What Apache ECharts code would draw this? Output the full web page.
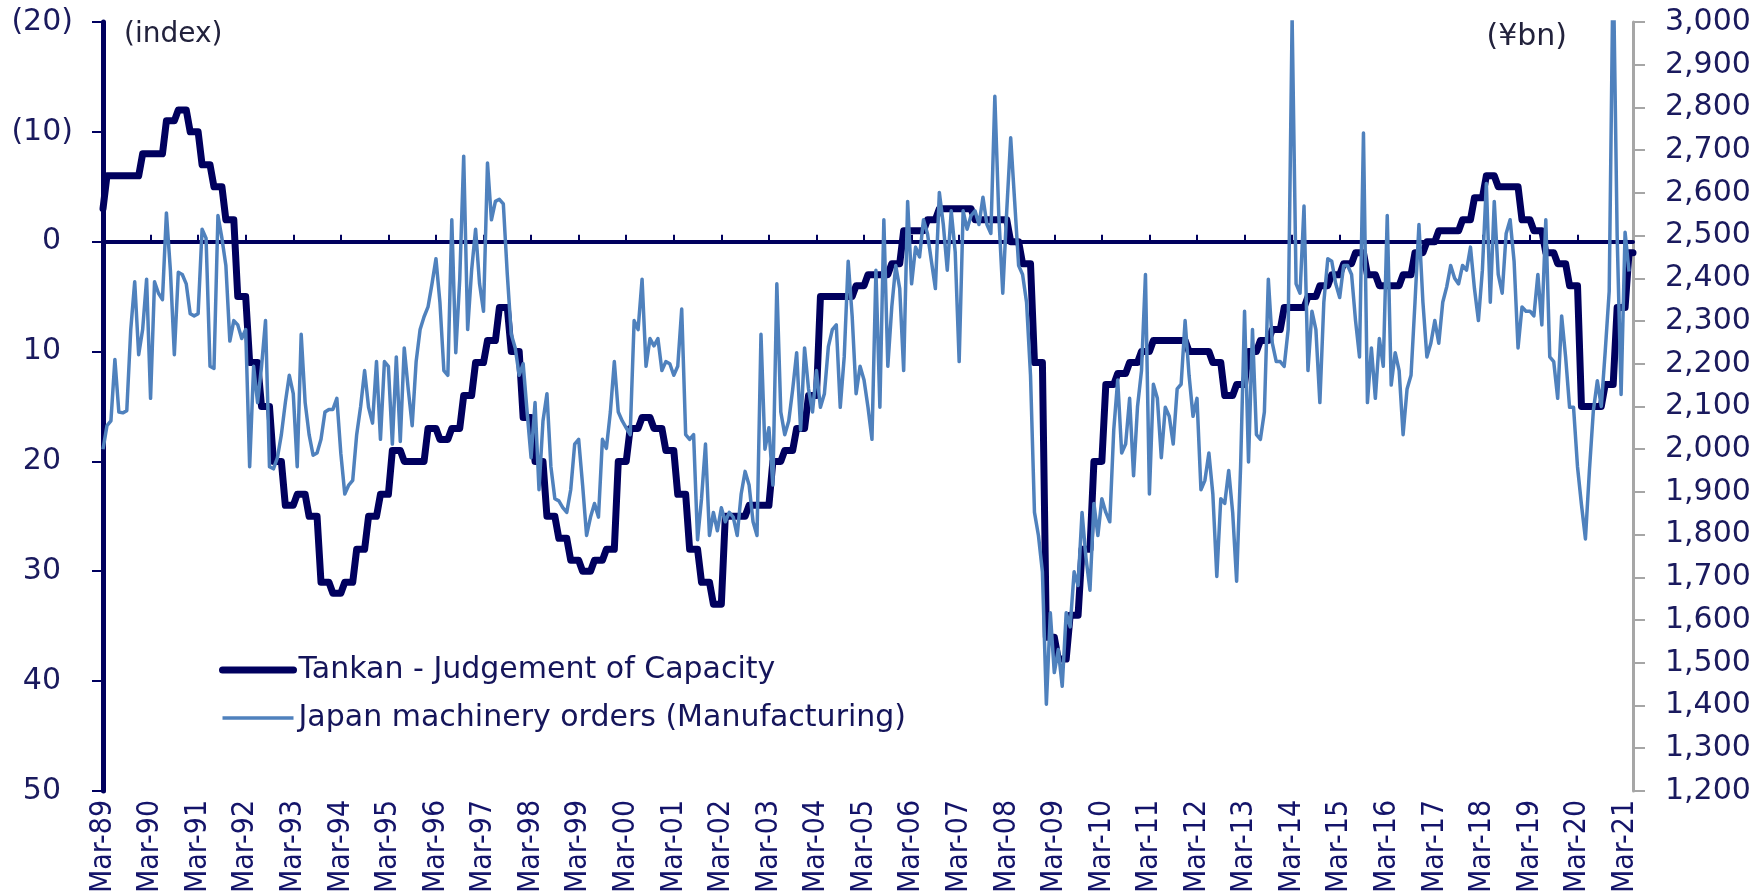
<!DOCTYPE html>
<html>
<head>
<meta charset="utf-8">
<script src="https://cdn.jsdelivr.net/npm/echarts@6/dist/echarts.min.js"></script>
<style>
html, body { margin: 0; padding: 0; background: #fff; }
#chart { width: 1756px; height: 896px; }
</style>
</head>
<body>
<div id="chart"></div>
<script>
// monthly categories, Mar-89 .. May-21
var monthNames = ['Jan', 'Feb', 'Mar', 'Apr', 'May', 'Jun', 'Jul', 'Aug', 'Sep', 'Oct', 'Nov', 'Dec'];
var firstYear = 1989, firstMonth = 2, monthCount = 387;
var months = [];
for (var k = 0; k < monthCount; k++) {
  var mm = (firstMonth + k) % 12;
  var yy = firstYear + Math.floor((firstMonth + k) / 12);
  months.push(monthNames[mm] + '-' + String(yy).slice(2));
}

// Tankan - judgement of capacity, quarterly survey (first value = Mar-89 only)
var tankanQ = [
  -3,
  -6, -6, -6, -8,     // 89/90
  -8, -11, -12, -10,  // 90/91
  -7, -5, -2, 5,      // 91/92
  11, 15, 20, 24,     // 92/93
  23, 25, 31, 32,     // 93/94
  31, 28, 25, 23,     // 94/95
  19, 20, 20, 17,     // 95/96
  18, 17, 14, 11,     // 96/97
  9, 6, 10, 16,       // 97/98
  20, 25, 27, 29,     // 98/99
  30, 29, 28, 20,     // 99/00
  17, 16, 17, 19,     // 00/01
  23, 28, 31, 33,     // 01/02
  25, 25, 24, 24,     // 02/03
  20, 19, 17, 14,     // 03/04
  5, 5, 5, 4,         // 04/05
  3, 3, 2, -1,        // 05/06
  -1, -2, -3, -3,     // 06/07
  -3, -2, -2, -2,     // 07/08
  0, 2, 11, 36,       // 08/09
  38, 34, 28, 20,     // 09/10
  13, 12, 11, 10,     // 10/11
  9, 9, 9, 10,        // 11/12
  10, 11, 14, 13,     // 12/13
  10, 9, 8, 6,        // 13/14
  6, 5, 4, 3,         // 14/15
  2, 1, 3, 4,         // 15/16
  4, 3, 1, 0,         // 16/17
  -1, -1, -2, -4,     // 17/18
  -6, -5, -5, -2,     // 18/19
  -1, 1, 2, 4,        // 19/20
  15, 15, 13, 6,      // 20/21
  1
];

// Japan machinery orders (manufacturing), monthly from Mar-89, yen bn
var orders89 = [2000, 2055, 2066, 2210, 2087, 2085, 2090, 2280, 2392, 2221, 2280, 2398];
var orders90 = [2119, 2392, 2365, 2350, 2553, 2419, 2221, 2414, 2409, 2387, 2317, 2312];
var orders91 = [2317, 2515, 2494, 2194, 2189, 2547, 2494, 2430, 2253, 2301, 2291, 2259];
var orders92 = [2280, 1959, 2194, 2109, 2194, 2301, 1959, 1954, 1980, 2034, 2109, 2173];
var orders93 = [2130, 1959, 2269, 2109, 2034, 1986, 1991, 2023, 2087, 2093, 2093, 2119];
var orders94 = [1990, 1895, 1916, 1927, 2034, 2100, 2184, 2098, 2061, 2205, 2023, 2205];
var orders95 = [2194, 2012, 2216, 2018, 2237, 2141, 2055, 2205, 2280, 2310, 2333, 2387];
var orders96 = [2446, 2344, 2184, 2173, 2537, 2226, 2398, 2686, 2280, 2419, 2515, 2387];
var orders97 = [2323, 2670, 2537, 2580, 2585, 2574, 2409, 2269, 2237, 2173, 2200, 2087];
var orders98 = [1980, 2109, 1905, 2066, 2130, 1959, 1884, 1879, 1863, 1852, 1905, 2012];
var orders99 = [2023, 1916, 1798, 1841, 1873, 1841, 2023, 2002, 2087, 2205, 2087, 2066];
var orders00 = [2050, 2034, 2301, 2280, 2398, 2194, 2259, 2242, 2259, 2184, 2205, 2200];
var orders01 = [2173, 2194, 2328, 2034, 2023, 2034, 1788, 1884, 2012, 1798, 1852, 1809];
var orders02 = [1863, 1830, 1852, 1841, 1798, 1895, 1948, 1916, 1830, 1798, 2269, 2000];
var orders03 = [2050, 1916, 2387, 2087, 2034, 2066, 2140, 2226, 2045, 2237, 2141, 2087];
var orders04 = [2184, 2098, 2130, 2240, 2280, 2291, 2098, 2216, 2440, 2312, 2130, 2194];
var orders05 = [2162, 2098, 2023, 2419, 2098, 2537, 2194, 2333, 2430, 2376, 2184, 2580];
var orders06 = [2387, 2473, 2450, 2537, 2505, 2440, 2376, 2601, 2526, 2419, 2558, 2462];
var orders07 = [2205, 2558, 2515, 2547, 2558, 2526, 2590, 2526, 2505, 2826, 2547, 2365];
var orders08 = [2558, 2729, 2580, 2430, 2409, 2344, 2173, 1852, 1798, 1713, 1403, 1617];
var orders09 = [1477, 1531, 1445, 1617, 1584, 1713, 1681, 1852, 1745, 1670, 1873, 1798];
var orders10 = [1884, 1852, 1830, 2045, 2162, 1991, 2012, 2119, 1938, 2100, 2184, 2409];
var orders11 = [1895, 2152, 2119, 1980, 2098, 2077, 2012, 2141, 2152, 2301, 2173, 2077];
var orders12 = [2119, 1905, 1927, 1991, 1895, 1702, 1884, 1873, 1950, 1852, 1691, 1959];
var orders13 = [2323, 1970, 2280, 2034, 2023, 2087, 2398, 2248, 2205, 2205, 2194, 2280];
var orders14 = [3010, 2387, 2365, 2569, 2184, 2323, 2280, 2109, 2344, 2446, 2440, 2387];
var orders15 = [2355, 2430, 2430, 2409, 2301, 2216, 2740, 2109, 2237, 2119, 2259, 2194];
var orders16 = [2547, 2150, 2226, 2184, 2034, 2141, 2173, 2344, 2526, 2344, 2216, 2248];
var orders17 = [2301, 2248, 2344, 2380, 2430, 2400, 2387, 2430, 2419, 2473, 2376, 2301];
var orders18 = [2419, 2622, 2344, 2580, 2409, 2365, 2505, 2537, 2440, 2237, 2333, 2323];
var orders19 = [2323, 2312, 2409, 2291, 2537, 2216, 2205, 2119, 2312, 2216, 2098, 2098];
var orders20 = [1959, 1870, 1790, 1950, 2090, 2160, 2100, 2230, 2370, 3150, 2500, 2128];
var orders21 = [2508, 2416];

var orders = [].concat(orders89, orders90, orders91, orders92, orders93, orders94, orders95,
  orders96, orders97, orders98, orders99, orders00, orders01, orders02, orders03, orders04,
  orders05, orders06, orders07, orders08, orders09, orders10, orders11, orders12, orders13,
  orders14, orders15, orders16, orders17, orders18, orders19, orders20, orders21);

// each survey value is held over the months of its quarter
var tankan = months.map(function (m, i) { return tankanQ[Math.ceil(i / 3)]; });

var leftTicks = { min: -20, max: 50, step: 10 };
var rightTicks = { min: 1200, max: 3000, step: 100 };

var NAVY = '#00005e';
var LIGHT = '#4f81bd';
var TXT = '#1a1a5e';
var TANKAN = 'Tankan - Judgement of Capacity';
var ORDERS = 'Japan machinery orders (Manufacturing)';

var chart = echarts.init(document.getElementById('chart'));

var yearTick = function (i) { return i % 12 === 0; };

var option = {
  animation: false,
  backgroundColor: '#fff',
  textStyle: { fontFamily: 'DejaVu Sans' },
  grid: { left: 103, right: 123, top: 22, bottom: 101, containLabel: false },
  legend: {
    orient: 'vertical',
    left: 214,
    top: 648,
    itemWidth: 71,
    itemHeight: 14,
    itemGap: 14,
    itemStyle: { opacity: 0 },
    textStyle: { color: '#15155a', fontSize: 30, fontFamily: 'DejaVu Sans', lineHeight: 34 },
    data: [
      { name: TANKAN, lineStyle: { width: 7, color: NAVY, cap: 'round' }, itemStyle: { opacity: 0 } },
      { name: ORDERS, lineStyle: { width: 3.5, color: LIGHT }, itemStyle: { opacity: 0 } }
    ]
  },
  graphic: [
    { type: 'text', left: 124, top: 21,
      style: { text: '(index)', font: '28px "DejaVu Sans"', fill: '#22223c' } },
    { type: 'text', right: 189, top: 22,
      style: { text: '(¥bn)', font: '30px "DejaVu Sans"', fill: '#22223c' } }
  ],
  xAxis: [
    {
      type: 'category',
      data: months,
      boundaryGap: false,
      position: 'bottom',
      axisLine: { show: false, onZero: false },
      axisTick: { show: false },
      axisLabel: {
        interval: yearTick,
        rotate: 90,
        margin: 9,
        color: '#14146a',
        fontSize: 30,
        fontFamily: '"Liberation Sans Narrow", "DejaVu Sans Condensed", "Liberation Sans", sans-serif'
      },
      splitLine: { show: false }
    },
    {
      type: 'category',
      data: months,
      boundaryGap: false,
      position: 'bottom',
      axisLine: { show: true, onZero: true, onZeroAxisIndex: 0, lineStyle: { color: NAVY, width: 4 } },
      axisTick: { show: true, inside: true, length: 7, interval: yearTick, lineStyle: { color: NAVY, width: 2 } },
      axisLabel: { show: false },
      splitLine: { show: false }
    }
  ],
  yAxis: [
    {
      type: 'value',
      position: 'left',
      inverse: true,
      min: leftTicks.min,
      max: leftTicks.max,
      interval: leftTicks.step,
      axisLine: { show: true, lineStyle: { color: NAVY, width: 5 } },
      axisTick: { show: true, length: 11, lineStyle: { color: NAVY, width: 2 } },
      splitLine: { show: false },
      axisLabel: {
        margin: 30,
        color: TXT,
        fontSize: 30,
        fontFamily: 'DejaVu Sans',
        formatter: function (v) {
          return v < 0 ? '(' + (-v) + ')' : '{n|' + v + '}';
        },
        rich: { n: { padding: [0, 12, 0, 0], color: TXT, fontSize: 30, fontFamily: 'DejaVu Sans' } }
      }
    },
    {
      type: 'value',
      position: 'right',
      min: rightTicks.min,
      max: rightTicks.max,
      interval: rightTicks.step,
      axisLine: { show: true, lineStyle: { color: '#a6a6a6', width: 3 } },
      axisTick: { show: true, length: 12, lineStyle: { color: '#a6a6a6', width: 2 } },
      splitLine: { show: false },
      axisLabel: {
        margin: 32,
        color: TXT,
        fontSize: 30,
        fontFamily: 'DejaVu Sans',
        formatter: function (v) { return v.toLocaleString('en-US'); }
      }
    }
  ],
  series: [
    {
      name: TANKAN,
      type: 'line',
      xAxisIndex: 0,
      yAxisIndex: 0,
      data: tankan,
      symbol: 'none',
      showSymbol: false,
      itemStyle: { color: NAVY },
      lineStyle: { color: NAVY, width: 7, join: 'round', cap: 'round' }
    },
    {
      name: ORDERS,
      type: 'line',
      xAxisIndex: 0,
      yAxisIndex: 1,
      data: orders,
      symbol: 'none',
      showSymbol: false,
      itemStyle: { color: LIGHT },
      lineStyle: { color: LIGHT, width: 3.5, join: 'round' }
    }
  ]
};

chart.setOption(option);
</script>
</body>
</html>
